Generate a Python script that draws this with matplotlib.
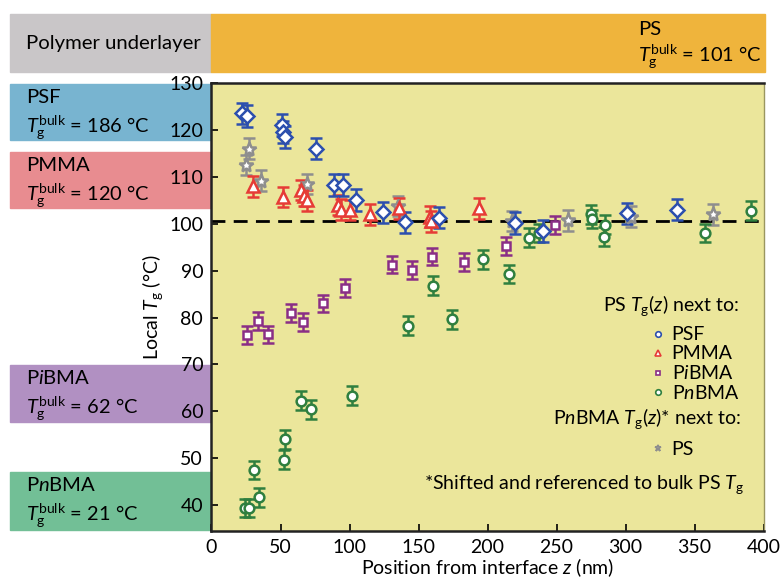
import matplotlib.pyplot as plt
from matplotlib.patches import Rectangle
from matplotlib.lines import Line2D

plt.rcParams['font.family'] = 'Lato'
plt.rcParams['mathtext.fontset'] = 'custom'
plt.rcParams['mathtext.rm'] = 'Lato'
plt.rcParams['mathtext.it'] = 'Lato:italic'

# PS Tg(z) next to PSF
psf_z = [22, 26, 51, 52, 53, 76, 89, 95, 105, 124, 140, 165, 220, 240, 301, 337]
psf_tg = [123.5, 123, 121, 119.5, 118.5, 116, 108.3, 108.3, 105, 102.4, 100.3, 101.3, 100.1, 98.4, 102.2, 103]

# PS Tg(z) next to PMMA
pmma_z = [30, 52, 65, 67, 69, 92, 94, 100, 115, 136, 158, 159, 194]
pmma_tg = [108, 105.7, 107.2, 106, 105, 104, 103, 102.9, 102, 103.3, 101.5, 100.5, 103.3]

# PS Tg(z) next to PiBMA
pibma_z = [26, 34, 41, 57.5, 66, 81, 96.5, 130.5, 145.5, 160, 183, 213.5, 249]
pibma_tg = [76.2, 79.2, 76.4, 81, 79.1, 83, 86.3, 91.3, 90.2, 93, 91.8, 95.2, 99.7]

# PS Tg(z) next to PnBMA
pnbma_z = [24, 27, 30.5, 34.5, 52.5, 53, 64.5, 72, 102, 142.5, 160.5, 174, 196.5,
           215.5, 230, 237, 275, 276, 285.5, 284.5, 357.5, 391]
pnbma_tg = [39.4, 39.4, 47.5, 41.7, 49.7, 54, 62.3, 60.4, 63.3, 78.3, 86.8, 79.6, 92.4,
            89.3, 97, 98, 102, 101, 99.8, 97.2, 98, 102.8]

# PnBMA Tg(z) next to PS (shifted to bulk PS Tg)
ps_z = [25, 27, 36, 69, 135, 218, 258, 304, 363.5]
ps_tg = [112.5, 116, 109.2, 108.5, 103.8, 100.6, 100.7, 101.5, 102]

err_psf, err_pmma, err_pibma, err_pnbma, err_ps = 2.3, 2.2, 1.9, 2.0, 2.2
ps_bulk = 100.5

W, H = 780, 579
fig = plt.figure(figsize=(W / 100, H / 100), dpi=100)
ax = fig.add_axes([211.5 / W, 1 - 530.5 / H, 552 / W, 447.5 / H])
ax.set_facecolor('#ebe69b')
ax.set_zorder(2)

def px_box(x0, y0, x1, y1, color):
    fig.patches.append(Rectangle((x0 / W, 1 - y1 / H), (x1 - x0) / W, (y1 - y0) / H,
                                 transform=fig.transFigure, color=color, zorder=0))

# header bars and underlayer boxes
px_box(10, 14, 211, 72, '#c9c6c8')
px_box(211, 14, 765, 72, '#efb43c')
px_box(10, 84, 211, 140, '#78b4d0')
px_box(10, 152, 211, 208, '#e88c90')
px_box(10, 365, 211, 422, '#b190c2')
px_box(10, 472, 211, 530, '#72bf96')

def ftext(x, y, s, fs=14.6):
    fig.text(x / W, 1 - y / H, s, fontsize=fs, va='baseline')

tg_fs = 14.4
ftext(26, 49, 'Polymer underlayer')
ftext(638, 35, 'PS')
ftext(638, 62, r'$T_\mathrm{g}^\mathrm{bulk}$ = 101 °C', tg_fs)
ftext(26, 103, 'PSF')
ftext(26, 133, r'$T_\mathrm{g}^\mathrm{bulk}$ = 186 °C', tg_fs)
ftext(26, 171, 'PMMA')
ftext(26, 201, r'$T_\mathrm{g}^\mathrm{bulk}$ = 120 °C', tg_fs)
ftext(26, 384, r'P$\it{i}$BMA')
ftext(26, 414, r'$T_\mathrm{g}^\mathrm{bulk}$ = 62 °C', tg_fs)
ftext(26, 491, r'P$\it{n}$BMA')
ftext(26, 521, r'$T_\mathrm{g}^\mathrm{bulk}$ = 21 °C', tg_fs)

ax.axhline(ps_bulk, color='black', lw=2, ls=(0, (5, 3)), zorder=1)

series = [
    (ps_z, ps_tg, err_ps, '*', 10, '#8e8e8e'),
    (pnbma_z, pnbma_tg, err_pnbma, 'o', 7, '#2f7f3f'),
    (pibma_z, pibma_tg, err_pibma, 's', 6, '#8a2e86'),
    (pmma_z, pmma_tg, err_pmma, '^', 8, '#e63b36'),
    (psf_z, psf_tg, err_psf, 'D', 7.5, '#2c4fae'),
]
for z, tg, err, m, ms, c in series:
    ax.errorbar(z, tg, yerr=err, fmt=m, ms=ms, mfc='white', mec=c, mew=1.8,
                ecolor=c, elinewidth=1.8, capsize=4, capthick=1.8, zorder=3)

ax.set_xlim(0, 400)
ax.set_ylim(34.6, 130)
ax.set_xticks(range(0, 401, 50))
ax.set_yticks(range(40, 131, 10))
ax.tick_params(direction='in', labelsize=14, length=5, width=1.2)
ax.tick_params(axis='y', pad=6)
ax.tick_params(axis='x', pad=6)
for s in ['left', 'top', 'bottom']:
    ax.spines[s].set_linewidth(1.8)
    ax.spines[s].set_color('#222222')
ax.spines['right'].set_color('#9a9660')
ax.spines['right'].set_linewidth(1)

ax.set_xlabel(r'Position from interface $z$ (nm)', fontsize=14, labelpad=0)
ax.set_ylabel(r'Local $T_\mathrm{g}$ (°C)', fontsize=14, labelpad=3)

# legend headings and entries
ax.text(0.955, (530.5 - 311) / 447.5, r'PS $T_\mathrm{g}(z)$ next to:', transform=ax.transAxes,
        ha='right', va='baseline', fontsize=14)
ax.text(0.959, (530.5 - 424) / 447.5, r'P$\it{n}$BMA $T_\mathrm{g}(z)$* next to:',
        transform=ax.transAxes, ha='right', va='baseline', fontsize=14)
ax.text(0.965, (530.5 - 489) / 447.5, r'*Shifted and referenced to bulk PS $T_\mathrm{g}$',
        transform=ax.transAxes, ha='right', va='baseline', fontsize=14)

def proxy(m, c, ms):
    return Line2D([], [], ls='none', marker=m, ms=ms, mfc='white', mec=c, mew=1.2)

leg1 = ax.legend([proxy('o', '#2c4fae', 4), proxy('^', '#e63b36', 4.5),
                  proxy('s', '#8a2e86', 3.5), proxy('o', '#2f7f3f', 4)],
                 ['PSF', 'PMMA', r'P$\it{i}$BMA', r'P$\it{n}$BMA'],
                 loc='upper left', bbox_to_anchor=(0.795, 0.456), frameon=False,
                 fontsize=14, borderpad=0, borderaxespad=0, handlelength=0.8,
                 handletextpad=0.3, labelspacing=0.1)
ax.add_artist(leg1)
ax.legend([proxy('*', '#8e8e8e', 5)], ['PS'],
          loc='upper left', bbox_to_anchor=(0.795, 0.2), frameon=False,
          fontsize=14, borderpad=0, borderaxespad=0, handlelength=0.8,
          handletextpad=0.3)

fig.savefig('out.png', dpi=100)
